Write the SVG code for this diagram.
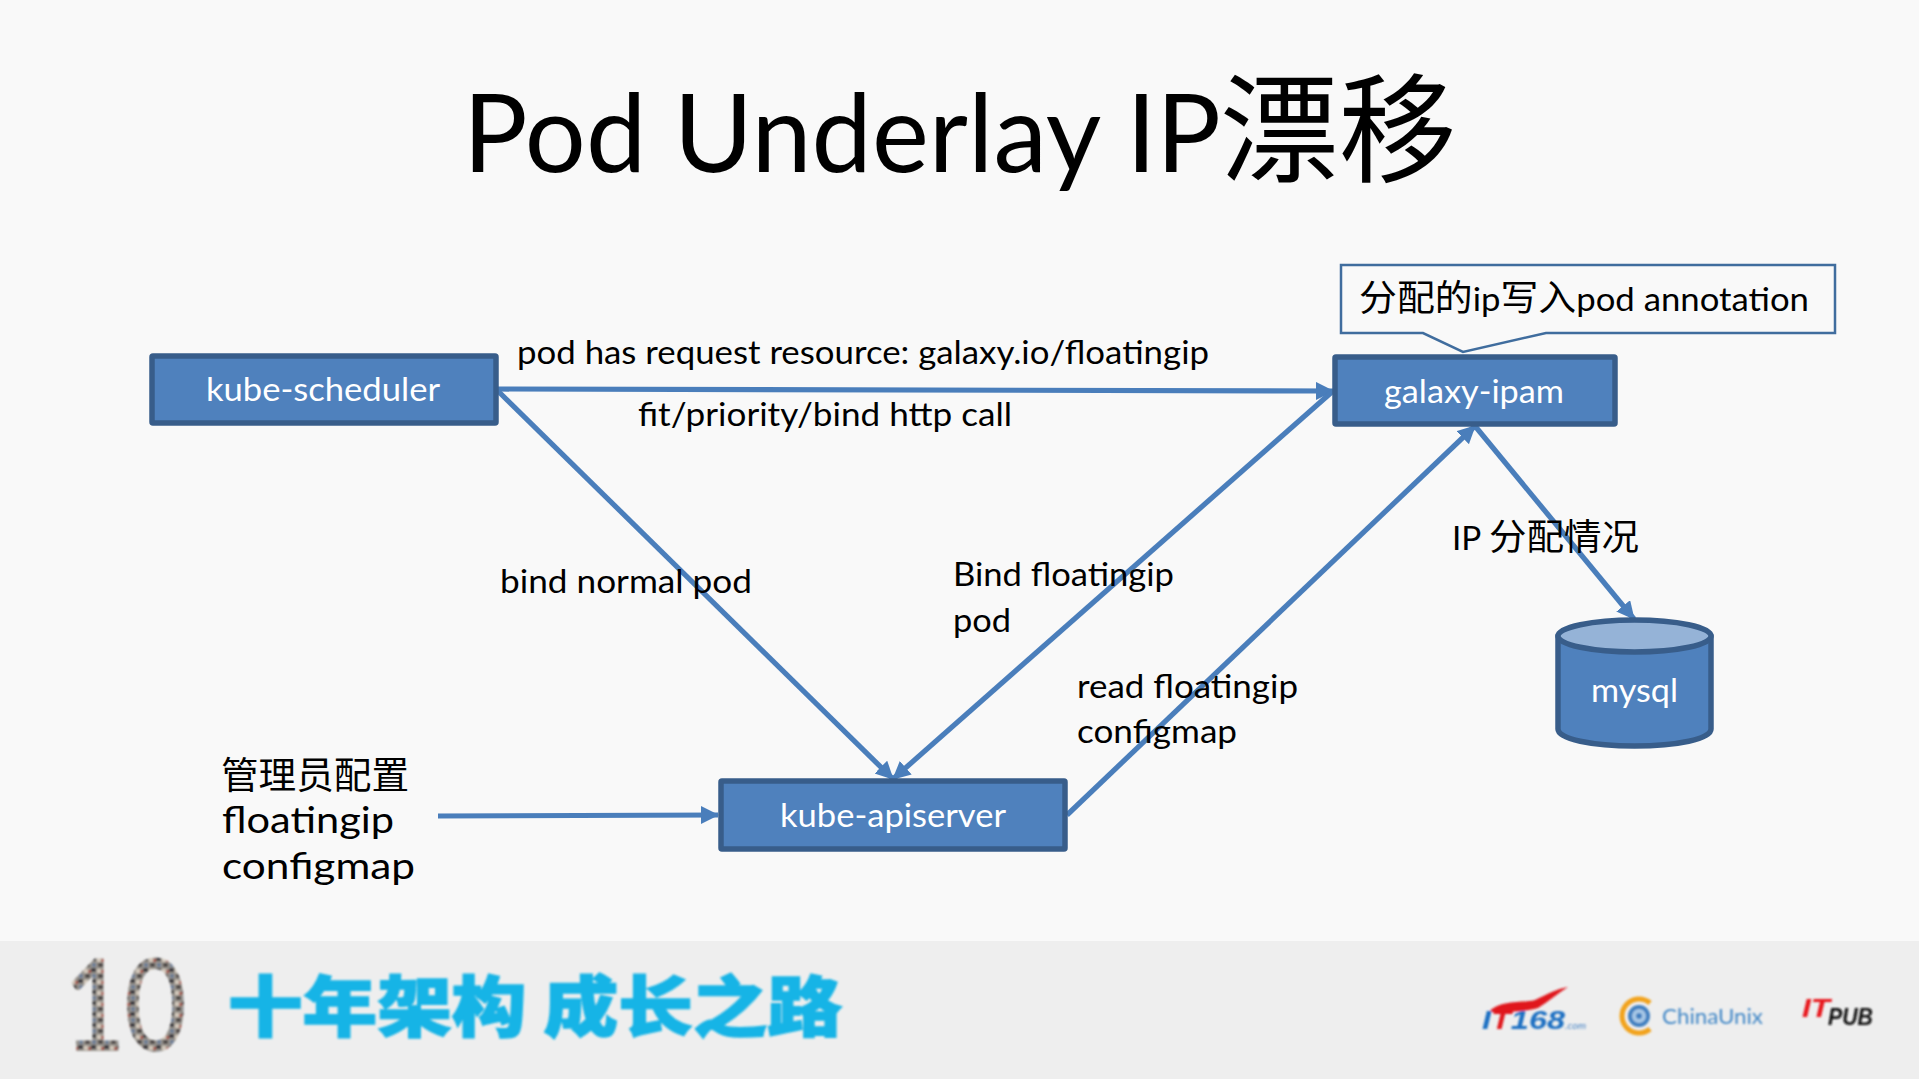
<svg xmlns="http://www.w3.org/2000/svg" width="1919" height="1079" viewBox="0 0 1919 1079">
<style>
text{font-family:"Lato","Noto Sans CJK SC",sans-serif;}
.cjk{font-family:"Noto Sans CJK SC","Lato",sans-serif;}
.box{fill:#4f81bd;stroke:#385d8a;stroke-width:5.5;stroke-linejoin:round;}
.wt{fill:#fff;font-size:33px;}
.lb{fill:#000;font-size:32px;}
.big{fill:#000;font-size:37px;}
.cn{fill:none;stroke:#4a7ebb;stroke-width:5.2;}
.arrow{marker-end:url(#ah);}
.logo{font-family:"Liberation Sans",sans-serif;font-weight:700;font-style:italic;}
</style>
<defs>
<marker id="ah" markerUnits="userSpaceOnUse" markerWidth="22" markerHeight="20" refX="17" refY="9" orient="auto"><path d="M0 0L18 9L0 18Z" fill="#4a7ebb"/></marker>
<pattern id="mosaic" width="13" height="11" patternUnits="userSpaceOnUse">
<rect width="13" height="11" fill="#9a958e"/><rect width="5" height="4" fill="#3e3d42"/><rect x="6" y="1" width="4" height="4" fill="#d2c8bb"/><rect x="1" y="6" width="4" height="4" fill="#6f7f96"/><rect x="7" y="6" width="5" height="4" fill="#4f4a48"/><rect x="10" y="2" width="3" height="3" fill="#a85a50"/>
</pattern>
<filter id="soft" x="-5%" y="-5%" width="110%" height="110%"><feGaussianBlur stdDeviation="0.9"/></filter>
</defs>
<rect width="1919" height="1079" fill="#f9f9f9"/>
<rect id="footer-band" y="941" width="1919" height="138" fill="#eeeeee"/>

<g id="title">
<text x="463" y="172" font-size="108" fill="#000" textLength="758" lengthAdjust="spacingAndGlyphs">Pod Underlay IP</text>
<text class="cjk" x="1220" y="173" font-size="118" fill="#000" textLength="237" lengthAdjust="spacingAndGlyphs">漂移</text>
</g>

<g id="connectors">
<path class="cn arrow" d="M498 389L1333 391"/>
<path class="cn arrow" d="M498 391L893 779"/>
<path class="cn arrow" d="M1333 391L893 779"/>
<path class="cn arrow" d="M1067 815L1475 426"/>
<path class="cn arrow" d="M1475 426L1634 619"/>
<path class="cn arrow" d="M438 816L718 815"/>
</g>

<g id="kube-scheduler">
<rect class="box" x="152" y="356" width="344" height="67" rx="1"/>
<text class="wt" x="206" y="401" textLength="234" lengthAdjust="spacingAndGlyphs">kube-scheduler</text>
</g>
<g id="galaxy-ipam">
<rect class="box" x="1335" y="357" width="280" height="67" rx="1"/>
<text class="wt" x="1384" y="403" textLength="180" lengthAdjust="spacingAndGlyphs">galaxy-ipam</text>
</g>
<g id="kube-apiserver">
<rect class="box" x="721" y="781" width="344" height="68" rx="1"/>
<text class="wt" x="780" y="827" textLength="226" lengthAdjust="spacingAndGlyphs">kube-apiserver</text>
</g>
<g id="mysql">
<path class="box" d="M1558 636V729C1558 739 1592 746 1634.5 746C1677 746 1711 739 1711 729V636Z"/>
<ellipse cx="1634.5" cy="636" rx="76.5" ry="16" fill="#95b3d7" stroke="#385d8a" stroke-width="5.5"/>
<text class="wt" x="1591" y="702" textLength="87" lengthAdjust="spacingAndGlyphs">mysql</text>
</g>
<g id="annotation">
<path d="M1341 265H1835V333H1546L1463 352L1423 333H1341Z" fill="#f9f9f9" stroke="#406d9e" stroke-width="2.5"/>
<text x="1359" y="311" font-size="33" fill="#000" textLength="450" lengthAdjust="spacingAndGlyphs"><tspan class="cjk" font-size="36">分配的</tspan>ip<tspan class="cjk" font-size="36">写入</tspan>pod annotation</text>
</g>

<g id="labels">
<text class="lb" x="517" y="364" textLength="692" lengthAdjust="spacingAndGlyphs">pod has request resource: galaxy.io/floatingip</text>
<text class="lb" x="638" y="426" textLength="374" lengthAdjust="spacingAndGlyphs">fit/priority/bind http call</text>
<text class="lb" x="500" y="593" textLength="252" lengthAdjust="spacingAndGlyphs">bind normal pod</text>
<text class="lb" x="953" y="586" textLength="221" lengthAdjust="spacingAndGlyphs">Bind floatingip</text>
<text class="lb" x="953" y="632" textLength="58" lengthAdjust="spacingAndGlyphs">pod</text>
<text class="lb" x="1077" y="698" textLength="221" lengthAdjust="spacingAndGlyphs">read floatingip</text>
<text class="lb" x="1077" y="743" textLength="160" lengthAdjust="spacingAndGlyphs">configmap</text>
<text class="big cjk" x="221" y="789" textLength="188" lengthAdjust="spacingAndGlyphs">管理员配置</text>
<text class="big" x="222" y="833" textLength="172" lengthAdjust="spacingAndGlyphs">floatingip</text>
<text class="big" x="222" y="879" textLength="193" lengthAdjust="spacingAndGlyphs">configmap</text>
<text class="lb" x="1452" y="550" textLength="187" lengthAdjust="spacingAndGlyphs">IP <tspan class="cjk" font-size="36">分配情况</tspan></text>
</g>

<g id="footer-logos" filter="url(#soft)">
<text x="64" y="1050" font-size="126" font-weight="400" fill="url(#mosaic)" stroke="url(#mosaic)" stroke-width="2" textLength="122" lengthAdjust="spacingAndGlyphs" style="font-family:'Lato',sans-serif">10</text>
<text class="cjk" x="228" y="1031" font-size="66" font-weight="900" fill="#19b4e6" stroke="#19b4e6" stroke-width="1.5" textLength="614" lengthAdjust="spacingAndGlyphs">十年架构 成长之路</text>
<path d="M1490 1011C1500 1000 1525 1003 1535 1000C1548 994 1556 989 1568 987C1558 993 1548 1002 1538 1008C1525 1012 1505 1012 1490 1012Z" fill="#e0161c"/>
<text class="logo" x="1482" y="1029" font-size="25" fill="#1c6fc2" textLength="83" lengthAdjust="spacingAndGlyphs">I<tspan fill="#e0161c">T</tspan>168</text>
<text x="1565" y="1029" font-size="9" font-style="italic" fill="#4a86c6" textLength="21" lengthAdjust="spacingAndGlyphs">.com</text>
<path d="M1650 1003A17 17 0 1 0 1650 1029" fill="none" stroke="#f2a31e" stroke-width="5"/>
<circle cx="1639" cy="1016" r="11" fill="#3f7fc0"/><circle cx="1639" cy="1016" r="7" fill="#a8c8e6"/><circle cx="1639" cy="1016" r="3" fill="#3f7fc0"/>
<text x="1662" y="1024" font-size="22" fill="#3f86c6" textLength="101" lengthAdjust="spacingAndGlyphs">ChinaUnix</text>
<text class="logo" x="1802" y="1017" font-size="26" fill="#e8141c" textLength="28" lengthAdjust="spacingAndGlyphs">IT</text>
<text class="logo" x="1828" y="1025" font-size="23" fill="#111" textLength="45" lengthAdjust="spacingAndGlyphs">PUB</text>
</g>
</svg>
